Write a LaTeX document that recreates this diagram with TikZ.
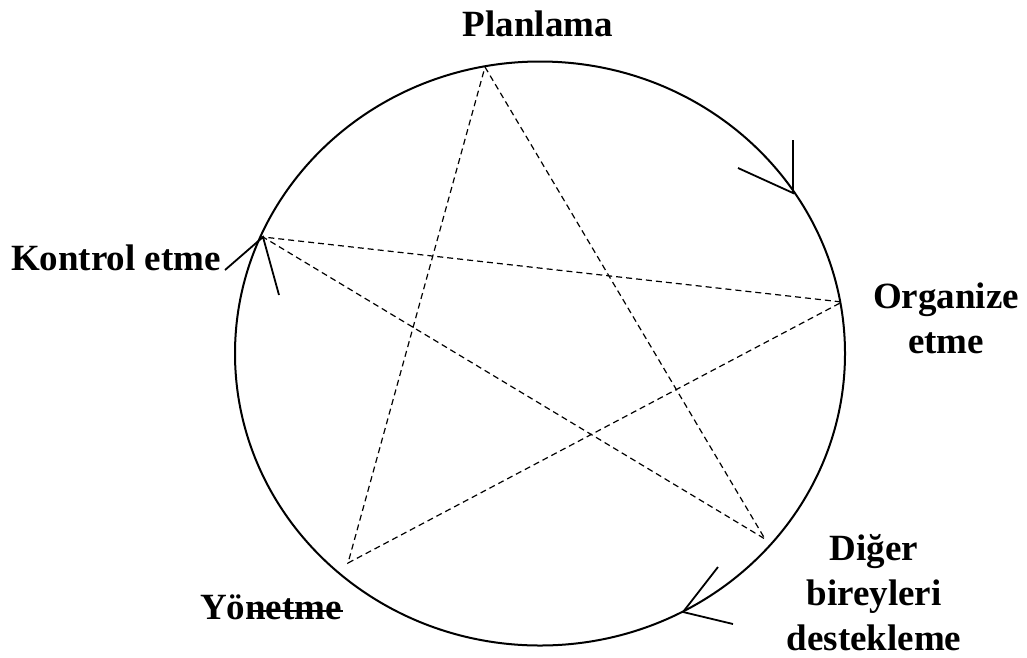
\documentclass[tikz,border=0pt]{standalone}
\usepackage{fontspec}
\setmainfont{Liberation Serif}
\begin{document}
\begin{tikzpicture}[x=1pt,y=-1pt,
    lbl/.style={font=\fontsize{37}{45}\selectfont\bfseries,align=center,inner sep=0pt},
    starline/.style={line width=1.2pt,dash pattern=on 6pt off 4pt},
    vee/.style={line width=1.8pt}]
    \useasboundingbox (0,0) rectangle (1027,657);
    % --- the cycle ---
    \draw[line width=2pt] (540,353.5) ellipse [x radius=305,y radius=292];
    % --- corners of the star ---
    \coordinate (pl) at (485,67);
    \coordinate (or) at (842,302);
    \coordinate (dg) at (765,539);
    \coordinate (yo) at (348,563);
    \coordinate (ko) at (263,237);
    \draw[starline] (pl) -- (dg) -- (ko) -- (or) -- (yo) -- cycle;
    % open heads along the circle
    \foreach \tx/\ty/\ax/\ay/\bx/\by in {793/193/793/140/738/168,
                                        683/612/718/567/733/624,
                                        263/237/225/270/279/295}
      \draw[vee] (\ax,\ay) -- (\tx,\ty) -- (\bx,\by);
    \draw[line width=1.2pt] (248,611) -- (343,611);
    % --- labels ---
    \node[lbl] (planlama) at (538,24) {Planlama};
    \node[lbl] (kontrol) at (116,258) {Kontrol etme};
    \node[lbl] (organize) at (946,318) {Organize\\etme};
    \node[lbl] (diger) at (874,593) {Diğer\\bireyleri\\destekleme};
    \node[lbl] (yonetme) at (271,607) {Yönetme};
\end{tikzpicture}
\end{document}
